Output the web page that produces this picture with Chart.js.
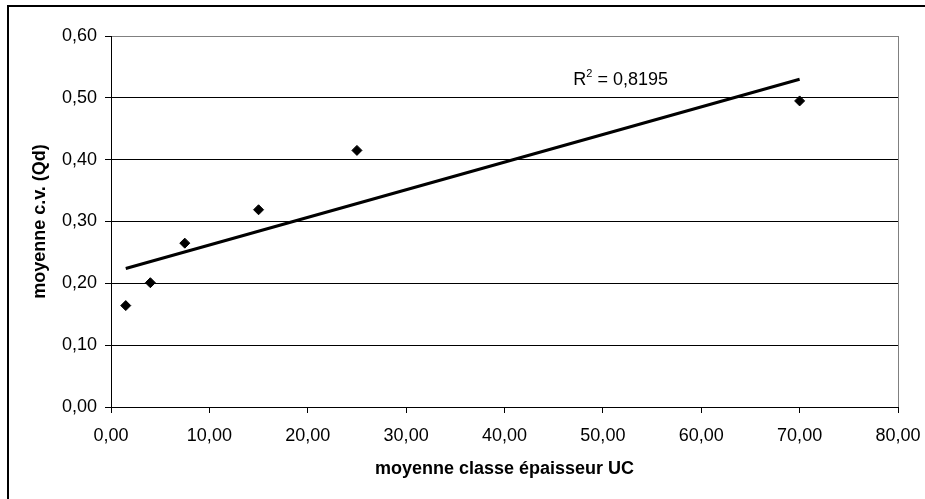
<!DOCTYPE html>
<html lang="fr">
<head>
<meta charset="utf-8">
<title>moyenne c.v. (Qd) / moyenne classe épaisseur UC</title>
<script src="https://cdn.jsdelivr.net/npm/chart.js@4.4.1/dist/chart.umd.min.js"></script>
<style>
  html, body { margin: 0; padding: 0; background: #ffffff; }
  #wrap { width: 925px; height: 499px; }
</style>
</head>
<body>
<div id="wrap"><canvas id="chart" width="925" height="499"></canvas></div>
<script>
// Mean thickness class (UC) and mean coefficient of variation (Qd)
const classeEpaisseur = [1.5, 4, 7.5, 15, 25, 70];
const moyenneCV = [0.164, 0.201, 0.265, 0.319, 0.415, 0.495];

// Linear trend line end points
const trendX = [1.5, 70];
const trendY = [0.224, 0.530];
const r2Text = '0,8195';

// Axis ranges and tick steps
const xTicks = { min: 0, max: 80, step: 10 };
const yTicks = { min: 0, max: 0.6, step: 0.1 };

const FONT = '"Liberation Sans", Arial, sans-serif';
const frGrid = v => Number(v).toFixed(2).replace('.', ',');

const pageFrame = {
  id: 'pageFrame',
  beforeDraw(chart) {
    const c = chart.ctx;
    c.save();
    c.fillStyle = '#ffffff';
    c.fillRect(0, 0, chart.width, chart.height);
    c.strokeStyle = '#000000';
    c.lineWidth = 2;
    c.strokeRect(8, 6, chart.width + 10, chart.height + 10);
    c.restore();
  }
};

const r2Label = {
  id: 'r2Label',
  afterDatasetsDraw(chart) {
    const c = chart.ctx;
    const x = chart.scales.x.getPixelForValue(47);
    const y = chart.scales.y.getPixelForValue(0.52);
    c.save();
    c.fillStyle = '#000000';
    c.textBaseline = 'alphabetic';
    c.textAlign = 'left';
    c.font = '18px ' + FONT;
    c.fillText('R', x, y);
    let dx = c.measureText('R').width;
    c.font = '11px ' + FONT;
    c.fillText('2', x + dx, y - 8);
    dx += c.measureText('2').width;
    c.font = '18px ' + FONT;
    c.fillText(' = ' + r2Text, x + dx, y);
    c.restore();
  }
};

const points = classeEpaisseur.map((x, i) => ({ x, y: moyenneCV[i] }));
const trend = trendX.map((x, i) => ({ x, y: trendY[i] }));

new Chart(document.getElementById('chart'), {
  type: 'scatter',
  data: {
    datasets: [
      {
        type: 'line',
        data: trend,
        borderColor: '#000000',
        borderWidth: 3,
        pointRadius: 0,
        fill: false,
        order: 2
      },
      {
        data: points,
        pointStyle: 'rectRot',
        pointRadius: 5,
        pointBackgroundColor: '#000000',
        pointBorderColor: '#000000',
        pointBorderWidth: 1,
        order: 1
      }
    ]
  },
  options: {
    responsive: false,
    animation: false,
    devicePixelRatio: 1,
    layout: { padding: { top: 36, right: 27, left: 0, bottom: 0 } },
    plugins: { legend: { display: false }, tooltip: { enabled: false } },
    scales: {
      x: {
        type: 'linear',
        min: xTicks.min,
        max: xTicks.max,
        afterFit(s) { s.height = 92; s.paddingLeft = 0; s.paddingRight = 0; },
        ticks: {
          stepSize: xTicks.step,
          color: '#000000',
          font: { family: FONT, size: 18 },
          padding: 12,
          maxRotation: 0,
          callback: v => frGrid(v)
        },
        grid: {
          color: c => (c.tick && c.tick.value === xTicks.max) ? '#808080' : 'rgba(0,0,0,0)',
          tickColor: '#000000',
          tickLength: 6,
          lineWidth: 1
        },
        border: { display: true, color: '#000000', width: 1 },
        title: {
          display: true,
          text: 'moyenne classe épaisseur UC',
          color: '#000000',
          font: { family: FONT, size: 18, weight: 'bold' },
          padding: { top: 0, bottom: 19 }
        }
      },
      y: {
        type: 'linear',
        min: yTicks.min,
        max: yTicks.max,
        afterFit(s) { s.width = 111; s.paddingTop = 0; s.paddingBottom = 0; },
        ticks: {
          stepSize: yTicks.step,
          color: '#000000',
          font: { family: FONT, size: 18 },
          padding: 8,
          callback: v => frGrid(v)
        },
        grid: {
          color: c => (c.tick && Math.abs(c.tick.value - yTicks.max) < 1e-9) ? '#808080' : '#000000',
          tickColor: '#000000',
          tickLength: 6,
          lineWidth: 1
        },
        border: { display: true, color: '#000000', width: 1 },
        title: {
          display: true,
          text: 'moyenne c.v. (Qd)',
          color: '#000000',
          font: { family: FONT, size: 18, weight: 'bold' },
          padding: { top: 29, bottom: 0 }
        }
      }
    }
  },
  plugins: [pageFrame, r2Label]
});
</script>
</body>
</html>
